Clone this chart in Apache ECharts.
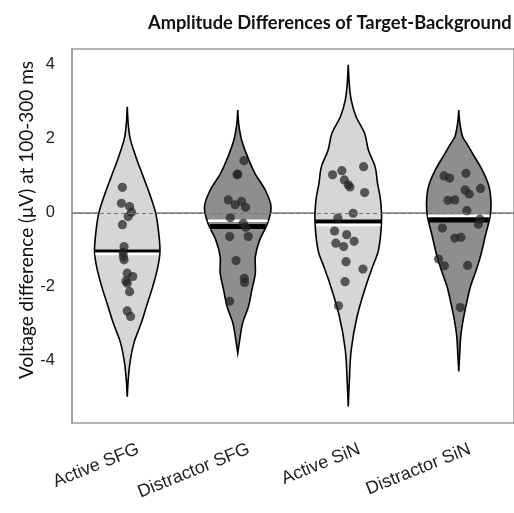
<!DOCTYPE html>
<html>
<head>
<meta charset="utf-8">
<script src="https://cdn.jsdelivr.net/npm/echarts@6/dist/echarts.min.js"></script>
<style>html,body{margin:0;padding:0;background:#fff}#c{width:514px;height:513px}</style>
</head>
<body>
<div id="c"></div>
<script>
// ---- data ----
const categories = ['Active SFG', 'Distractor SFG', 'Active SiN', 'Distractor SiN'];
const yTicks = [-4, -2, 0, 2, 4];

// violin outlines: y values (µV) and half-width as fraction of category band
const violinY = [
  [2.87, 2.4, 2.0, 1.5, 1.0, 0.5, 0.0, -0.5, -1.05, -1.5, -2.0, -2.5, -3.0, -3.5, -4.0, -4.5, -4.97],
  [2.78, 2.4, 1.97, 1.52, 1.07, 0.62, 0.17, -0.28, -0.73, -1.18, -1.63, -2.08, -2.53, -2.98, -3.43, -3.79],
  [4.0, 3.5, 3.05, 2.6, 2.15, 1.7, 1.25, 0.8, 0.35, -0.23, -1.0, -1.45, -1.9, -2.8, -3.7, -4.6, -5.23],
  [2.78, 2.45, 2.06, 1.84, 1.61, 1.16, 0.71, 0.26, -0.1, -0.64, -1.09, -1.54, -1.99, -2.44, -2.89, -3.34, -3.8, -4.29]
];
const violinW = [
  [0, 0.009, 0.027, 0.08, 0.142, 0.204, 0.257, 0.283, 0.296, 0.274, 0.23, 0.177, 0.124, 0.062, 0.027, 0.009, 0],
  [0, 0.009, 0.035, 0.088, 0.155, 0.248, 0.301, 0.27, 0.199, 0.159, 0.159, 0.128, 0.097, 0.044, 0.018, 0],
  [0, 0.009, 0.027, 0.071, 0.148, 0.182, 0.243, 0.265, 0.292, 0.301, 0.274, 0.221, 0.168, 0.08, 0.027, 0.009, 0],
  [0, 0.009, 0.035, 0.08, 0.124, 0.212, 0.274, 0.292, 0.283, 0.239, 0.204, 0.159, 0.106, 0.071, 0.04, 0.018, 0.009, 0]
];

// black and white summary lines (µV)
const blackLine = [-1.03, -0.37, -0.23, -0.19];
const whiteLine = [-1.11, -0.21, -0.33, -0.08];

// individual points: values (µV) and horizontal jitter (fraction of band)
const pointsY = [
  [0.69, 0.26, 0.17, 0.02, -0.1, -0.32, -0.91, -1.07, -1.18, -1.27, -1.63, -1.72, -1.9, -1.84, -2.13, -2.65, -2.8],
  [1.41, 1.03, 1.05, 0.35, 0.22, 0.31, 0.15, -0.13, -0.28, -0.39, -0.64, -0.64, -1.29, -1.77, -1.88, -2.39],
  [1.03, 1.14, 0.89, 0.76, 0.70, 1.25, 0.55, -0.01, -0.14, -0.49, -0.59, -0.82, -0.91, -0.77, -1.32, -1.52, -1.86, -2.51],
  [1.0, 0.94, 1.07, 0.62, 0.51, 0.66, 0.34, 0.35, 0.06, -0.17, -0.31, -0.41, -0.68, -0.66, -1.25, -1.43, -1.42, -2.56]
];
const pointsJ = [
  [-0.044, -0.053, 0.021, 0.039, 0.009, -0.044, -0.029, -0.038, -0.035, -0.029, 0, 0.05, 0, -0.012, 0.021, 0, 0.03],
  [0.056, -0.006, 0.0, -0.086, -0.024, 0.035, 0.071, -0.068, 0.05, 0.073, -0.073, 0.095, -0.015, 0.059, 0.062, -0.073],
  [-0.142, -0.058, -0.035, 0, 0.015, 0.139, 0.148, 0.044, -0.094, -0.124, -0.014, -0.112, -0.041, 0.053, -0.02, 0.133, -0.029, -0.088],
  [-0.133, -0.083, 0.065, 0.058, 0.094, 0.197, -0.097, -0.035, 0.073, 0.191, 0.177, -0.148, -0.035, 0.02, -0.183, -0.13, 0.08, 0.014]
];

// ---- styling ----
const fills = ['#d6d6d6', '#8e8e8e', '#d6d6d6', '#8e8e8e'];
const blackWidths = [3, 5, 4, 5];

function widthAt(i, y) {
  const ys = violinY[i], ws = violinW[i];
  for (let k = 0; k < ys.length - 1; k++) {
    if (y <= ys[k] && y >= ys[k + 1]) {
      const t = (ys[k] - y) / (ys[k] - ys[k + 1]);
      return ws[k] + t * (ws[k + 1] - ws[k]);
    }
  }
  return 0;
}

const violinData = categories.map((c, i) => [i]);
const pointData = [];
pointsY.forEach((arr, i) => arr.forEach((v, k) => pointData.push([i, v, pointsJ[i][k]])));
const lineData = [];
categories.forEach((c, i) => {
  lineData.push([i, blackLine[i], 0]);
  lineData.push([i, whiteLine[i], 1]);
});

const chart = echarts.init(document.getElementById('c'), null, {renderer: 'canvas'});
chart.setOption({
  animation: false,
  backgroundColor: '#fff',
  title: {
    text: 'Amplitude Differences of Target-Background',
    left: 143, top: 9,
    textStyle: {fontFamily: 'Lato', fontWeight: 'bold', fontSize: 18.3, color: '#111'}
  },
  grid: {left: 72, top: 49, width: 451, height: 374, show: true, borderColor: '#9a9a9a', borderWidth: 1.5, backgroundColor: 'transparent'},
  xAxis: {
    type: 'category', data: categories, boundaryGap: true,
    axisLine: {show: true, lineStyle: {color: '#9a9a9a', width: 2}},
    axisTick: {show: false},
    axisLabel: {rotate: 22, margin: 30, padding: [0, -12, 0, 0], fontFamily: 'Liberation Sans', fontSize: 18, color: '#222'}
  },
  yAxis: {
    type: 'value', min: -5.68, max: 4.43,
    axisLine: {show: true, lineStyle: {color: '#9a9a9a', width: 1.5}},
    axisTick: {show: false},
    splitLine: {show: false},
    axisLabel: {customValues: yTicks, margin: 17, fontFamily: 'Liberation Sans', fontSize: 16.5, color: '#222'}
  },
  graphic: [{
    type: 'text', x: 27, y: 220, rotation: Math.PI / 2,
    style: {text: 'Voltage difference (\u03bcV) at 100-300 ms', font: '19px Lato', fill: '#111', textAlign: 'center', textVerticalAlign: 'middle'}
  }],
  series: [
    {
      type: 'custom', z: 1, data: violinData,
      renderItem(params, api) {
        const i = api.value(0);
        const band = api.size([1, 0])[0];
        const cx = api.coord([i, 0])[0];
        const right = [], left = [];
        violinY[i].forEach((y, k) => {
          const py = api.coord([i, y])[1];
          right.push([cx + violinW[i][k] * band, py]);
          left.unshift([cx - violinW[i][k] * band, py]);
        });
        return {
          type: 'polygon',
          shape: {points: right.concat(left), smooth: 0.35},
          style: {fill: fills[i], stroke: '#000', lineWidth: 1.6}
        };
      }
    },
    {
      type: 'line', z: 2, data: [], silent: true,
      markLine: {
        silent: true, symbol: 'none', label: {show: false},
        lineStyle: {color: '#777', type: [4, 3], width: 1},
        data: [{yAxis: 0}]
      }
    },
    {
      type: 'custom', z: 3, data: lineData,
      renderItem(params, api) {
        const i = api.value(0), y = api.value(1), kind = api.value(2);
        const band = api.size([1, 0])[0];
        const p = api.coord([i, y]);
        const w = widthAt(i, y) * band - 0.5;
        return {
          type: 'line',
          shape: {x1: p[0] - w, y1: p[1], x2: p[0] + w, y2: p[1]},
          style: {stroke: kind === 0 ? '#000' : '#fff', lineWidth: kind === 0 ? blackWidths[i] : 2.5}
        };
      }
    },
    {
      type: 'custom', z: 4, data: pointData,
      renderItem(params, api) {
        const i = api.value(0), y = api.value(1), j = api.value(2);
        const band = api.size([1, 0])[0];
        const p = api.coord([i, y]);
        return {
          type: 'circle',
          shape: {cx: p[0] + j * band, cy: p[1], r: 4.6},
          style: {fill: 'rgba(35,35,35,0.72)'}
        };
      }
    }
  ]
});
</script>
</body>
</html>
